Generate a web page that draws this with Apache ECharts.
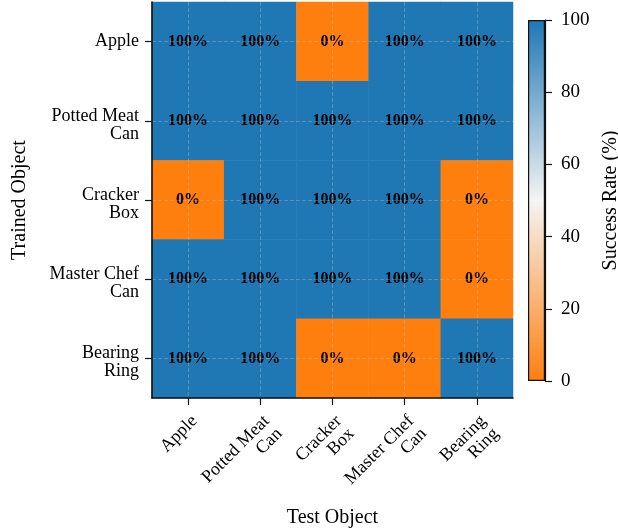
<!DOCTYPE html>
<html>
<head>
<meta charset="utf-8">
<script src="https://cdn.jsdelivr.net/npm/echarts@6/dist/echarts.min.js"></script>
<style>
  html, body { margin: 0; padding: 0; background: #ffffff; }
  #chart { width: 618px; height: 529px; }
</style>
</head>
<body>
<div id="chart"></div>
<script>
// Object names (test objects across, trained objects down)
const testObjects = ['Apple', 'Potted Meat\nCan', 'Cracker\nBox', 'Master Chef\nCan', 'Bearing\nRing'];
const trainedObjects = ['Apple', 'Potted Meat\nCan', 'Cracker\nBox', 'Master Chef\nCan', 'Bearing\nRing'];

// Success rate (%) per trained object, one value per test object
const rateApple        = [100, 100,   0, 100, 100];
const ratePottedMeat   = [100, 100, 100, 100, 100];
const rateCrackerBox   = [  0, 100, 100, 100,   0];
const rateMasterChef   = [100, 100, 100, 100,   0];
const rateBearingRing  = [100, 100,   0,   0, 100];
const successRates = [rateApple, ratePottedMeat, rateCrackerBox, rateMasterChef, rateBearingRing];

// Colour bar scale
const colorbarTicks = [0, 20, 40, 60, 80, 100];

const FONT = 'Liberation Serif';
const ORANGE = '#ff7f0e';
const BLUE = '#1f77b4';
const MID = '#f4f4f4';

const cells = [];
successRates.forEach((row, r) => {
  row.forEach((v, c) => cells.push([c, r, v]));
});

const chart = echarts.init(document.getElementById('chart'), null, { renderer: 'canvas' });

const gridLine = {
  show: true,
  alignWithLabel: true,
  lineStyle: { color: 'rgba(210,210,210,0.38)', type: [4, 2], width: 0.8 }
};

// two-line row labels sit a little lower, baseline-centred on their tick
const rowLabelFormatter = v => {
  const lines = v.split('\n');
  if (lines.length === 1) return '{n|' + v + '}';
  return '{f|' + lines[0] + '}\n' + lines.slice(1).map(l => '{n|' + l + '}').join('\n');
};
const rowRich = {
  n: { fontFamily: FONT, fontSize: 18, color: '#000', lineHeight: 18, align: 'right' },
  f: { fontFamily: FONT, fontSize: 18, color: '#000', lineHeight: 26, align: 'right', verticalAlign: 'bottom' }
};

chart.setOption({
  animation: false,
  backgroundColor: '#ffffff',
  grid: [
    { left: 152, top: 2, width: 361, height: 396, containLabel: false, outerBoundsMode: 'none' },
    { left: 528, top: 20, width: 17, height: 361, containLabel: false, outerBoundsMode: 'none' }
  ],
  xAxis: [
    {
      gridIndex: 0,
      type: 'category',
      data: testObjects,
      z: 5,
      name: 'Test Object',
      nameLocation: 'middle',
      nameGap: 107,
      nameTextStyle: { fontFamily: FONT, fontSize: 20, color: '#000' },
      axisLine: { show: true, lineStyle: { color: '#111', width: 1.6 } },
      axisTick: { show: true, alignWithLabel: true, length: 7, lineStyle: { color: '#111', width: 1.2 } },
      axisLabel: {
        rotate: 45, fontFamily: FONT, fontSize: 18, color: '#000',
        lineHeight: 18, margin: 14, align: 'right', verticalAlign: 'top'
      },
      splitLine: gridLine
    },
    {
      gridIndex: 1,
      type: 'category',
      data: [''],
      axisLine: { show: false },
      axisTick: { show: false },
      axisLabel: { show: false },
      splitLine: { show: false }
    }
  ],
  yAxis: [
    {
      gridIndex: 0,
      type: 'category',
      data: trainedObjects,
      inverse: true,
      z: 5,
      name: 'Trained Object',
      nameLocation: 'middle',
      nameGap: 122,
      nameRotate: 90,
      nameTextStyle: { fontFamily: FONT, fontSize: 20, color: '#000' },
      axisLine: { show: true, lineStyle: { color: '#111', width: 1.6 } },
      axisTick: { show: true, alignWithLabel: true, length: 7, lineStyle: { color: '#111', width: 1.2 } },
      axisLabel: {
        fontFamily: FONT, fontSize: 18, color: '#000', lineHeight: 18, margin: 13, align: 'right',
        formatter: rowLabelFormatter,
        rich: rowRich
      },
      splitLine: gridLine
    },
    {
      gridIndex: 1,
      type: 'value',
      position: 'right',
      min: 0, max: 100, interval: 20,
      name: 'Success Rate (%)',
      nameLocation: 'middle',
      nameGap: 56,
      nameRotate: 90,
      nameTextStyle: { fontFamily: FONT, fontSize: 20, color: '#000' },
      axisLine: { show: true, lineStyle: { color: '#111', width: 1.2 } },
      axisTick: { show: true, inside: false, length: 7, lineStyle: { color: '#111', width: 1.2 } },
      axisLabel: {
        inside: false,
        fontFamily: FONT, fontSize: 19, color: '#000', margin: 16,
        formatter: v => colorbarTicks.includes(v) ? String(v) : ''
      },
      splitLine: { show: false }
    }
  ],
  visualMap: {
    show: false,
    min: 0,
    max: 100,
    seriesIndex: 0,
    dimension: 2,
    inRange: { color: [ORANGE, MID, BLUE] }
  },
  series: [
    {
      type: 'heatmap',
      xAxisIndex: 0,
      yAxisIndex: 0,
      data: cells,
      itemStyle: { borderWidth: 0 },
      label: {
        show: true,
        formatter: p => p.value[2] + '%',
        fontFamily: FONT,
        fontWeight: 'bold',
        fontSize: 16,
        color: '#000'
      },
      emphasis: { disabled: true }
    },
    {
      // colour bar: one full-height bar filled with the colour ramp
      type: 'bar',
      xAxisIndex: 1,
      yAxisIndex: 1,
      data: [colorbarTicks[colorbarTicks.length - 1]],
      barWidth: '100%',
      silent: true,
      itemStyle: {
        borderColor: '#111',
        borderWidth: 1.2,
        color: new echarts.graphic.LinearGradient(0, 1, 0, 0, [
          { offset: 0, color: ORANGE },
          { offset: 0.5, color: MID },
          { offset: 1, color: BLUE }
        ])
      }
    }
  ]
});
</script>
</body>
</html>
